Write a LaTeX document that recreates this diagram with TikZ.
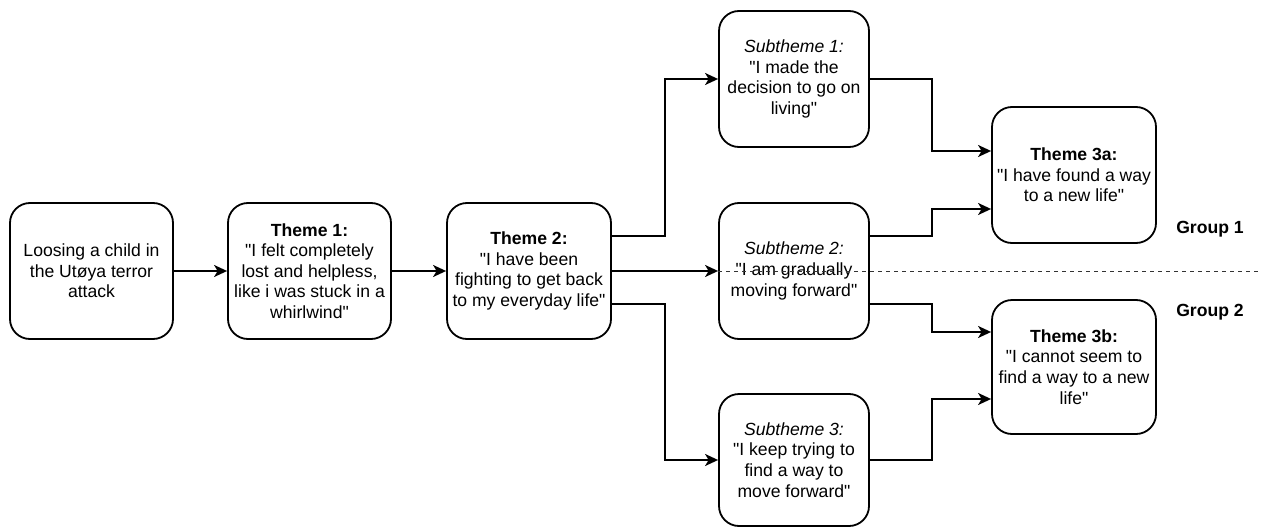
\documentclass[tikz,border=0pt]{standalone}
\usepackage{fontspec}
\setmainfont{Liberation Sans}[Ligatures=TeXOff]
\usetikzlibrary{arrows.meta}
\newcommand{\dq}{\symbol{34}}
\begin{document}
\begin{tikzpicture}[x=1pt,y=-1pt,
  box/.style={draw, line width=1.8pt, rounded corners=20pt, align=center, inner sep=0pt,
    minimum height=136pt, font=\fontsize{17.6}{20.6}\selectfont},
  mainbox/.style={box, minimum width=163pt},
  subbox/.style={box, minimum width=150pt},
  arr/.style={line width=1.8pt, -{Stealth[length=13pt,width=12pt,inset=3.5pt]}},
  sep/.style={line width=1pt, dash pattern=on 4pt off 4pt, draw=black!80},
  grp/.style={font=\bfseries\fontsize{17.6}{20.6}\selectfont}]
\useasboundingbox (0,0) rectangle (1261,527);

\node[mainbox] (a) at (91.5,271) {Loosing a child in\\the Utøya terror\\attack};
\node[mainbox] (t1) at (309.5,271) {\textbf{Theme 1:}\\\dq I felt completely\\lost and helpless,\\like i was stuck in a\\whirlwind\dq};
\node[mainbox, minimum width=164pt] (t2) at (529,271) {\textbf{Theme 2:}\\\dq I have been\\fighting to get back\\to my everyday life\dq};
\node[subbox] (s1) at (794,79) {\textit{Subtheme 1:}\\\dq I made the\\decision to go on\\living\dq};
\node[subbox] (s2) at (794,271) {\textit{Subtheme 2:}\\\dq I am gradually\\moving forward\dq};
\node[subbox, minimum height=132pt] (s3) at (794,460) {\textit{Subtheme 3:}\\\dq I keep trying to\\find a way to\\move forward\dq};
\node[mainbox, minimum width=164pt] (t3a) at (1074,175) {\textbf{Theme 3a:}\\\dq I have found a way\\to a new life\dq};
\node[mainbox, minimum width=164pt, minimum height=134pt] (t3b) at (1074,367) {\textbf{Theme 3b:}\\\dq I cannot seem to\\find a way to a new\\life\dq};

\node[grp] (g1) at (1210,229) {Group 1};
\node[grp] (g2) at (1210,312) {Group 2};

\coordinate (dend) at (1261,271);
\draw[sep] (s2.west) -- (dend);

\draw[arr] (a) -- (t1);
\draw[arr] (t1) -- (t2);
\draw[arr] (t2) -- (s2);
\draw[arr] ([yshift=35pt]t2.east) -- ++(53,0) |- (s1.west);
\draw[arr] ([yshift=-33pt]t2.east) -- ++(53,0) |- (s3.west);
\draw[arr] (s1.east) -- ++(62,0) |- ([yshift=24pt]t3a.west);
\draw[arr] ([yshift=35pt]s2.east) -- ++(62,0) |- ([yshift=-34pt]t3a.west);
\draw[arr] ([yshift=-33pt]s2.east) -- ++(62,0) |- ([yshift=35pt]t3b.west);
\draw[arr] (s3.east) -- ++(62,0) |- ([yshift=-32pt]t3b.west);
\end{tikzpicture}
\end{document}
